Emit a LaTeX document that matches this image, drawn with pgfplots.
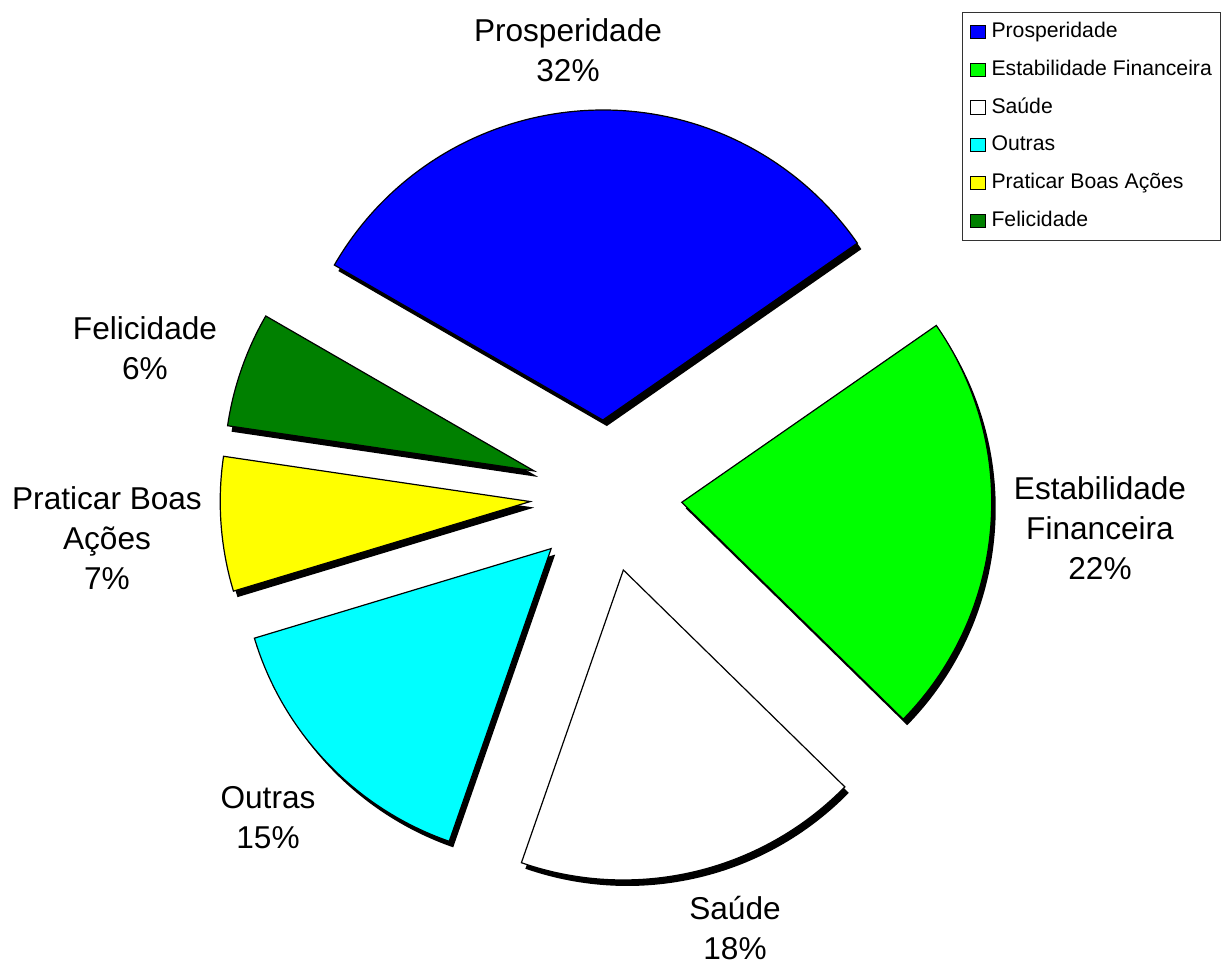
\documentclass[border=0pt]{standalone}
\usepackage{pgfplots}
\pgfplotsset{compat=1.18}
\usepackage{fontspec}
\setmainfont{Liberation Sans}
\usetikzlibrary{calc}
\definecolor{cProsp}{RGB}{0,0,255}
\definecolor{cEstab}{RGB}{0,255,0}
\definecolor{cSaude}{RGB}{255,255,255}
\definecolor{cOutras}{RGB}{0,255,255}
\definecolor{cPrat}{RGB}{255,255,0}
\definecolor{cFelic}{RGB}{0,128,0}
\newcommand{\labfont}{\fontsize{15.8}{20}\selectfont}
\newcommand{\legfont}{\fontsize{10.6}{12}\selectfont}
\newcommand{\curang}{150}
% #1 = percentage value, #2 = colour
\newcommand{\pieslice}[2]{%
  \pgfmathsetmacro{\sA}{\curang}%
  \pgfmathsetmacro{\eA}{\sA-3.6*#1}%
  \pgfmathsetmacro{\mA}{(\sA+\eA)/2}%
  \edef\doslice{%
    \noexpand\fill[black] ($(axis cs:606,469)+(\mA:38pt)+(2pt,-3pt)$) -- ++(\sA:155pt)
       arc[start angle=\sA, end angle=\eA, radius=155pt] -- cycle;
    \noexpand\filldraw[fill=#2, draw=black, line width=0.6pt, line join=miter]
       ($(axis cs:606,469)+(\mA:38pt)$) -- ++(\sA:155pt)
       arc[start angle=\sA, end angle=\eA, radius=155pt] -- cycle;
  }%
  \doslice
  \xdef\curang{\eA}%
}
\begin{document}
\begin{tikzpicture}
\begin{axis}[
  x=0.5pt, y=0.5pt,
  xmin=0, xmax=1230, ymin=0, ymax=965,
  hide axis, clip=false,
  legend cell align=left,
  legend image code/.code={\draw[#1, line width=0.5pt] (0pt,-3.3pt) rectangle (7.5pt,3.3pt);},
  legend style={at={(axis cs:962,953)}, anchor=north west,
    draw=black!80, line width=0.5pt, font=\legfont,
    inner sep=3.5pt, row sep=6.4pt, column sep=2pt,
    nodes={inner sep=1pt, text height=8pt, text depth=2.5pt}},
]
\path (axis cs:0,0) rectangle (axis cs:1230,965);
\addlegendimage{fill=cProsp, draw=black}
\addlegendentry{Prosperidade}
\addlegendimage{fill=cEstab, draw=black}
\addlegendentry{Estabilidade Financeira}
\addlegendimage{fill=cSaude, draw=black}
\addlegendentry{Saúde}
\addlegendimage{fill=cOutras, draw=black}
\addlegendentry{Outras}
\addlegendimage{fill=cPrat, draw=black}
\addlegendentry{Praticar Boas Ações}
\addlegendimage{fill=cFelic, draw=black}
\addlegendentry{Felicidade}

\pieslice{32}{cProsp}
\pieslice{22}{cEstab}
\pieslice{18}{cSaude}
\pieslice{15}{cOutras}
\pieslice{7}{cPrat}
\pieslice{6}{cFelic}

\node[align=center, font=\labfont] at (axis cs:568,915) {Prosperidade\\32\%};
\node[align=center, font=\labfont] at (axis cs:1100,437) {Estabilidade\\Financeira\\22\%};
\node[align=center, font=\labfont] at (axis cs:735,37) {Saúde\\18\%};
\node[align=center, font=\labfont] at (axis cs:268,147) {Outras\\15\%};
\node[align=center, font=\labfont] at (axis cs:107,427) {Praticar Boas\\Ações\\7\%};
\node[align=center, font=\labfont] at (axis cs:145,617) {Felicidade\\6\%};
\end{axis}
\end{tikzpicture}
\end{document}
